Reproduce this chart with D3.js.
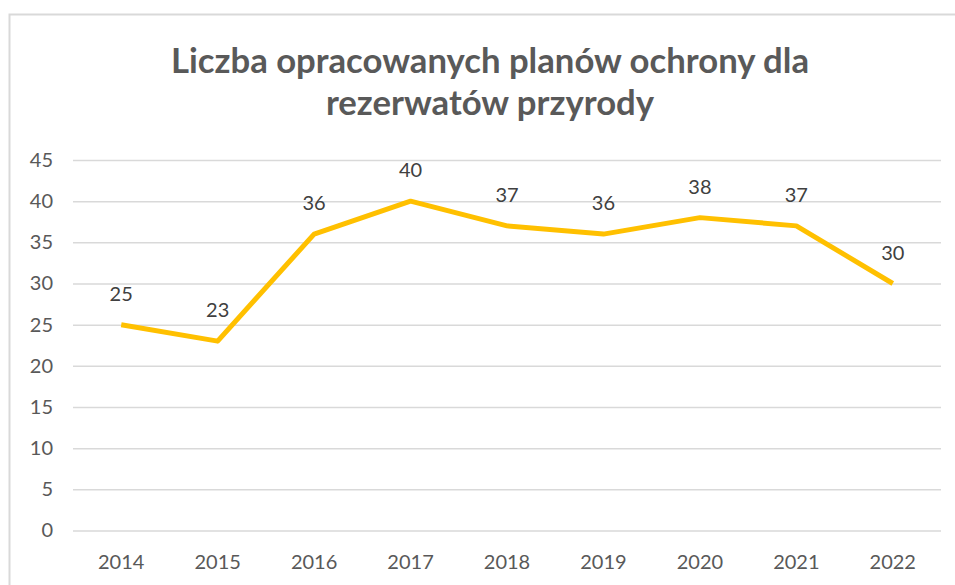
<!DOCTYPE html>
<html>
<head>
<meta charset="utf-8">
<script src="https://cdn.jsdelivr.net/npm/d3@7"></script>
<style>
  body { margin: 0; background: #fff; }
  text { font-family: Lato, "Open Sans", sans-serif; }
</style>
</head>
<body>
<div id="chart"></div>
<script>
var years = ['2014', '2015', '2016', '2017', '2018', '2019', '2020', '2021', '2022'];
var plans = [25, 23, 36, 40, 37, 36, 38, 37, 30];
var yTicks = [0, 5, 10, 15, 20, 25, 30, 35, 40, 45];
var titleLines = ['Liczba opracowanych planów ochrony dla', 'rezerwatów przyrody'];

var width = 955, height = 585;
var svg = d3.select('#chart').append('svg').attr('width', width).attr('height', height);

// chart frame
svg.append('rect')
    .attr('x', 9.5).attr('y', 14.5)
    .attr('width', 960).attr('height', 600)
    .attr('fill', 'none').attr('stroke', '#d9d9d9').attr('stroke-width', 2);

var x = d3.scaleBand().domain(years).range([73, 941]);
var y = d3.scaleLinear().domain([0, 45]).range([530.5, 160]);

// title
svg.selectAll('.title')
    .data(titleLines)
    .enter()
    .append('text')
    .attr('x', 490)
    .attr('y', function(d, i) { return 73 + i * 42; })
    .attr('text-anchor', 'middle')
    .attr('font-size', 34.7)
    .attr('font-weight', 'bold')
    .attr('fill', '#595959')
    .text(function(d) { return d; });

// grid + y labels
var yAxis = d3.axisLeft(y).tickValues(yTicks).tickSize(-(941 - 73)).tickPadding(20);
var gy = svg.append('g').attr('transform', 'translate(73,0)').call(yAxis);
gy.select('.domain').remove();
gy.selectAll('line').attr('stroke', '#d9d9d9').attr('stroke-width', 1.5);
gy.selectAll('text').attr('font-size', 20).attr('fill', '#595959')
    .attr('font-family', 'Lato, "Open Sans", sans-serif');

// x labels
var xAxis = d3.axisBottom(x).tickSize(0).tickPadding(24);
var gx = svg.append('g').attr('transform', 'translate(0,530.5)').call(xAxis);
gx.select('.domain').remove();
gx.selectAll('text').attr('font-size', 20).attr('fill', '#595959')
    .attr('font-family', 'Lato, "Open Sans", sans-serif');

// line
var line = d3.line()
    .x(function(d, i) { return x(years[i]) + x.bandwidth() / 2; })
    .y(function(d) { return y(d); });

svg.append('path')
    .datum(plans)
    .attr('d', line)
    .attr('fill', 'none')
    .attr('stroke', '#FFC000')
    .attr('stroke-width', 5)
    .attr('stroke-linejoin', 'round');

// value labels
svg.selectAll('.val')
    .data(plans)
    .enter()
    .append('text')
    .attr('x', function(d, i) { return x(years[i]) + x.bandwidth() / 2; })
    .attr('y', function(d) { return y(d) - 24; })
    .attr('text-anchor', 'middle')
    .attr('font-size', 20)
    .attr('fill', '#404040')
    .text(function(d) { return d; });
</script>
</body>
</html>
